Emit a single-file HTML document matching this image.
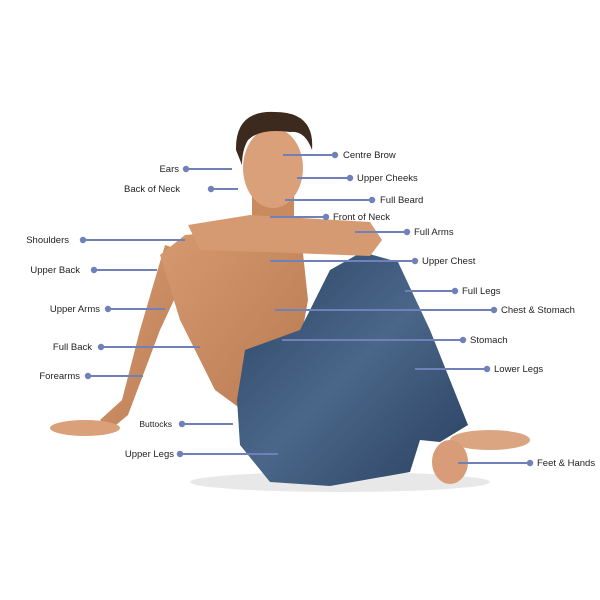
<!DOCTYPE html>
<html><head><meta charset="utf-8"><style>
html,body{margin:0;padding:0;background:#fff}
svg{display:block}
text{font-family:"Liberation Sans",sans-serif;font-size:9.5px;fill:#222}
</style></head><body>
<svg width="600" height="600" viewBox="0 0 600 600">
<defs>
<linearGradient id="sk" x1="0" y1="0" x2="1" y2="1"><stop offset="0" stop-color="#d79a70"/><stop offset="1" stop-color="#b97a52"/></linearGradient>
<linearGradient id="jn" x1="0" y1="0" x2="1" y2="1"><stop offset="0" stop-color="#2c4466"/><stop offset="0.5" stop-color="#4a6688"/><stop offset="1" stop-color="#2a4060"/></linearGradient>
</defs>
<!-- shadow -->
<ellipse cx="340" cy="482" rx="150" ry="10" fill="#e8e8e8"/>
<!-- lower arm to floor -->
<polygon points="165,245 195,255 160,330 128,415 110,430 100,420 122,400 140,330" fill="url(#sk)"/>
<ellipse cx="85" cy="428" rx="35" ry="8" fill="#d9a07a"/>
<!-- torso -->
<polygon points="185,235 300,225 308,300 300,345 280,380 245,412 215,390 180,320 160,255" fill="url(#sk)"/>
<!-- neck -->
<rect x="252" y="190" width="42" height="40" fill="#c98a60"/>
<!-- jeans -->
<polygon points="245,350 300,330 330,270 362,252 398,262 430,330 468,425 440,442 420,440 410,472 330,486 270,482 240,445 237,400" fill="url(#jn)"/>
<!-- feet -->
<ellipse cx="490" cy="440" rx="40" ry="10" fill="#dca581"/>
<ellipse cx="450" cy="462" rx="18" ry="22" fill="#d89d78"/>
<!-- raised arm -->
<polygon points="188,225 250,215 370,222 382,240 370,256 265,252 200,250" fill="#d69a72"/>
<!-- head -->
<ellipse cx="273" cy="168" rx="30" ry="40" fill="#d9a07a"/>
<path d="M236,150 Q235,110 275,112 Q315,112 312,150 Q305,130 290,132 Q260,128 248,140 Q242,150 242,165 Z" fill="#3b2a1d"/>
<!-- connectors -->
<g stroke="#7080b8" stroke-width="2" fill="none">
<line x1="186" y1="169" x2="232" y2="169"/>
<line x1="211" y1="189" x2="238" y2="189"/>
<line x1="83" y1="240" x2="185" y2="240"/>
<line x1="94" y1="270" x2="157" y2="270"/>
<line x1="108" y1="309" x2="165" y2="309"/>
<line x1="101" y1="347" x2="200" y2="347"/>
<line x1="88" y1="376" x2="143" y2="376"/>
<line x1="182" y1="424" x2="233" y2="424"/>
<line x1="180" y1="454" x2="278" y2="454"/>
<line x1="283" y1="155" x2="335" y2="155"/>
<line x1="297" y1="178" x2="350" y2="178"/>
<line x1="285" y1="200" x2="372" y2="200"/>
<line x1="270" y1="217" x2="326" y2="217"/>
<line x1="355" y1="232" x2="407" y2="232"/>
<line x1="270" y1="261" x2="415" y2="261"/>
<line x1="405" y1="291" x2="455" y2="291"/>
<line x1="275" y1="310" x2="494" y2="310"/>
<line x1="282" y1="340" x2="463" y2="340"/>
<line x1="415" y1="369" x2="487" y2="369"/>
<line x1="458" y1="463" x2="530" y2="463"/>
</g>
<g fill="#7080b8">
<circle cx="186" cy="169" r="3.2"/><circle cx="211" cy="189" r="3.2"/><circle cx="83" cy="240" r="3.2"/>
<circle cx="94" cy="270" r="3.2"/><circle cx="108" cy="309" r="3.2"/><circle cx="101" cy="347" r="3.2"/>
<circle cx="88" cy="376" r="3.2"/><circle cx="182" cy="424" r="3.2"/><circle cx="180" cy="454" r="3.2"/>
<circle cx="335" cy="155" r="3.2"/><circle cx="350" cy="178" r="3.2"/><circle cx="372" cy="200" r="3.2"/>
<circle cx="326" cy="217" r="3.2"/><circle cx="407" cy="232" r="3.2"/><circle cx="415" cy="261" r="3.2"/>
<circle cx="455" cy="291" r="3.2"/><circle cx="494" cy="310" r="3.2"/><circle cx="463" cy="340" r="3.2"/>
<circle cx="487" cy="369" r="3.2"/><circle cx="530" cy="463" r="3.2"/>
</g>
<g text-anchor="end">
<text x="179" y="172">Ears</text>
<text x="180" y="192">Back of Neck</text>
<text x="69" y="243">Shoulders</text>
<text x="80" y="273">Upper Back</text>
<text x="100" y="312">Upper Arms</text>
<text x="92" y="350">Full Back</text>
<text x="80" y="379">Forearms</text>
<text x="172" y="427" style="font-size:8.5px">Buttocks</text>
<text x="174" y="457">Upper Legs</text>
</g>
<text x="343" y="158">Centre Brow</text>
<text x="357" y="181">Upper Cheeks</text>
<text x="380" y="203">Full Beard</text>
<text x="333" y="220">Front of Neck</text>
<text x="414" y="235">Full Arms</text>
<text x="422" y="264">Upper Chest</text>
<text x="462" y="294">Full Legs</text>
<text x="501" y="313">Chest &amp; Stomach</text>
<text x="470" y="343">Stomach</text>
<text x="494" y="372">Lower Legs</text>
<text x="537" y="466">Feet &amp; Hands</text>
</svg>
</body></html>
